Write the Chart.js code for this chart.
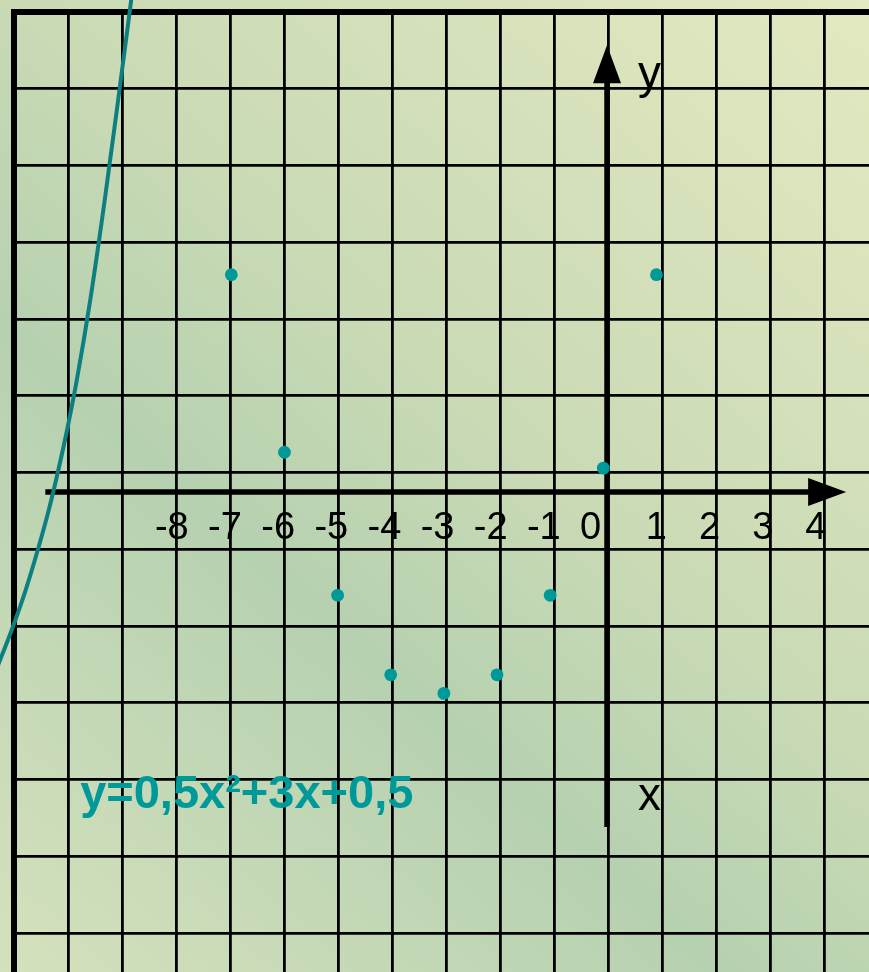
<!DOCTYPE html>
<html>
<head>
<meta charset="utf-8">
<script src="https://cdn.jsdelivr.net/npm/chart.js@4/dist/chart.umd.min.js"></script>
<style>
  html, body { margin: 0; padding: 0; background: #c8d9b4; }
  #wrap { width: 869px; height: 972px; position: relative; }
</style>
</head>
<body>
<div id="wrap"><canvas id="graph"></canvas></div>
<script>
// points of y=0,5x²+3x+0,5 as drawn on the slide
const pointX = [-7, -6, -5, -4, -3, -2, -1, 0, 1];
const pointY = [4.1, 0.75, -1.95, -3.45, -3.8, -3.45, -1.95, 0.45, 4.1];

// the stray curve piece at the left edge (traced)
const curveX = [-11.426, -11.131, -10.87, -10.641, -10.435, -10.254, -10.091, -9.908, -9.655, -9.382, -9.129, -8.884, -8.86];
const curveY = [-3.36, -2.6, -1.85, -1.09, -0.34, 0.42, 1.17, 2.11, 3.62, 5.51, 7.4, 9.28, 9.47];

const tickValues = [-8, -7, -6, -5, -4, -3, -2, -1, 0, 1, 2, 3, 4];
const tickLabels = ['-8', '-7', '-6', '-5', '-4', '-3', '-2', '-1', '0', '1', '2', '3', '4'];

const formulaText = 'y=0,5x²+3x+0,5';
const formulaAt = { x: -9.845, y: -5.96 };
const axisXRange = [-10.5, 4.57];
const axisYRange = [-6.32, 8.43];
const yAxisAt = 0.07;

const TEAL = '#00999a';

const backgroundPlugin = {
  id: 'bg',
  beforeDraw(chart) {
    const { ctx, width, height } = chart;
    const g = ctx.createLinearGradient(width, 0, 0, height);
    g.addColorStop(0, '#e3e9c1');
    g.addColorStop(0.44, '#c9dab5');
    g.addColorStop(0.63, '#b6d1b0');
    g.addColorStop(1, '#d5e1bd');
    ctx.save();
    ctx.fillStyle = g;
    ctx.fillRect(0, 0, width, height);
    ctx.restore();
  }
};

const axesPlugin = {
  id: 'arrows',
  beforeDatasetsDraw(chart) {
    const { ctx } = chart;
    const sx = chart.scales.x, sy = chart.scales.y;
    const y0 = sy.getPixelForValue(0);
    const x0 = sx.getPixelForValue(yAxisAt);
    const xl = sx.getPixelForValue(axisXRange[0]);
    const xr = sx.getPixelForValue(axisXRange[1]);
    const yt = sy.getPixelForValue(axisYRange[1]);
    const yb = sy.getPixelForValue(axisYRange[0]);
    const head = 38, half = 14;
    ctx.save();
    ctx.strokeStyle = '#000';
    ctx.fillStyle = '#000';
    ctx.lineWidth = 5.5;
    ctx.beginPath();
    ctx.moveTo(xl, y0);
    ctx.lineTo(xr - head + 2, y0);
    ctx.moveTo(x0, yb);
    ctx.lineTo(x0, yt + head - 2);
    ctx.stroke();
    ctx.beginPath();
    ctx.moveTo(xr, y0);
    ctx.lineTo(xr - head, y0 - half);
    ctx.lineTo(xr - head, y0 + half);
    ctx.closePath();
    ctx.fill();
    ctx.beginPath();
    ctx.moveTo(x0, yt);
    ctx.lineTo(x0 - half, yt + head);
    ctx.lineTo(x0 + half, yt + head);
    ctx.closePath();
    ctx.fill();
    ctx.restore();
  }
};

const textPlugin = {
  id: 'texts',
  afterDraw(chart) {
    const { ctx } = chart;
    const sx = chart.scales.x, sy = chart.scales.y;
    const y0 = sy.getPixelForValue(0);
    const x0 = sx.getPixelForValue(yAxisAt);
    ctx.save();
    ctx.fillStyle = '#000';
    ctx.textBaseline = 'alphabetic';
    ctx.font = '38px "Liberation Sans", Arial, sans-serif';
    const digitW = ctx.measureText('0').width;
    ctx.textAlign = 'right';
    tickValues.forEach((v, i) => {
      const px = v === 0 ? x0 - 6 : sx.getPixelForValue(v) + digitW / 2;
      ctx.fillText(tickLabels[i], px, y0 + 47);
    });
    ctx.font = '46px "Liberation Sans", Arial, sans-serif';
    ctx.textAlign = 'left';
    ctx.fillText('y', x0 + 31, sy.getPixelForValue(axisYRange[1]) + 43);
    ctx.fillText('x', x0 + 31, sy.getPixelForValue(axisYRange[0]) - 17);
    ctx.fillStyle = TEAL;
    ctx.font = 'bold 47px "Liberation Sans", Arial, sans-serif';
    ctx.fillText(formulaText, sx.getPixelForValue(formulaAt.x), sy.getPixelForValue(formulaAt.y));
    ctx.restore();
  }
};

const zeroSize = (s) => { s.width = 0; s.height = 0; };
const gridWidth = (c) => (c.tick && c.tick.value === 0 ? 6 : 2.8);

new Chart(document.getElementById('graph'), {
  type: 'scatter',
  data: {
    datasets: [
      {
        label: 'curve',
        data: curveX.map((x, i) => ({ x, y: curveY[i] })),
        showLine: true,
        borderColor: '#0e7f80',
        borderWidth: 4,
        pointRadius: 0,
        cubicInterpolationMode: 'monotone',
        clip: false,
        order: 2
      },
      {
        label: 'points',
        data: pointX.map((x, i) => ({ x, y: pointY[i] })),
        backgroundColor: TEAL,
        borderWidth: 0,
        pointRadius: 6.4,
        clip: false,
        order: 1
      }
    ]
  },
  options: {
    responsive: true,
    maintainAspectRatio: false,
    animation: false,
    events: [],
    layout: { autoPadding: false, padding: { left: 11, top: 9, right: 0, bottom: 0 } },
    plugins: {
      legend: { display: false },
      tooltip: { enabled: false },
      title: { display: false }
    },
    scales: {
      x: { type: 'linear', min: -11.146, max: 5.0, display: false },
      y: { type: 'linear', min: -9.057, max: 9.113, display: false },
      gx: {
        type: 'linear', axis: 'x', position: 'bottom',
        min: -0.0556, max: 15.833,
        ticks: { display: false, stepSize: 1, includeBounds: false },
        grid: { color: '#000', lineWidth: gridWidth, drawTicks: false },
        border: { display: false },
        afterFit: zeroSize
      },
      gy: {
        type: 'linear', axis: 'y', position: 'left', reverse: true,
        min: -0.039, max: 12.508,
        ticks: { display: false, stepSize: 1, includeBounds: false },
        grid: { color: '#000', lineWidth: gridWidth, drawTicks: false },
        border: { display: false },
        afterFit: zeroSize
      }
    }
  },
  plugins: [backgroundPlugin, axesPlugin, textPlugin]
});
</script>
</body>
</html>
